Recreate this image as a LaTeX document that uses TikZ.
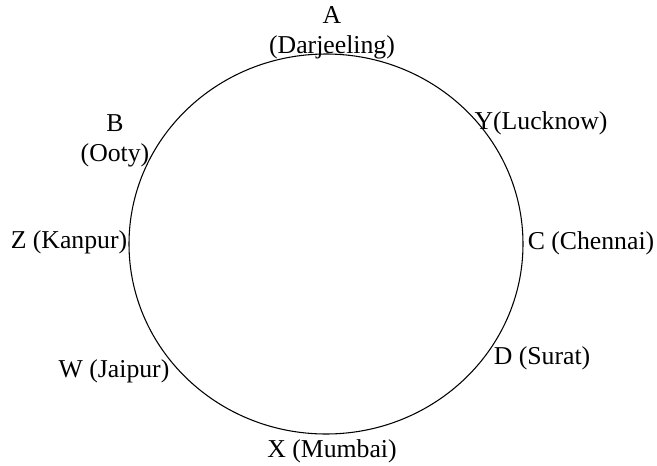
\documentclass[tikz,border=0pt]{standalone}
\usepackage{fontspec}
\setmainfont{Liberation Serif}
\usetikzlibrary{positioning}

\tikzset{city/.style={inner sep=1pt, align=center, font=\fontsize{19.3}{22.5}\selectfont}}

\begin{document}
\begin{tikzpicture}[x=0.75pt, y=-0.75pt]
  \useasboundingbox (0,0) rectangle (657,465);
  % seating circle
  \draw[line width=0.8pt] (326,244) ellipse (197 and 190);
  % top and left corners
  \node[city] (a) at (332,33) {A\\(Darjeeling)};
  \node[city] (b) at (115,140.5) {B\\(Ooty)};
  % around the circle
  \node[city] (y) at (541,123) {Y(Lucknow)};
  \node[city] (z) at (69,242) {Z (Kanpur)};
  \node[city] (c) at (591,243) {C (Chennai)};
  \node[city] (w) at (114,371) {W (Jaipur)};
  \node[city] (d) at (542,358) {D (Surat)};
  \node[city] (x) at (332,451) {X (Mumbai)};
\end{tikzpicture}
\end{document}
